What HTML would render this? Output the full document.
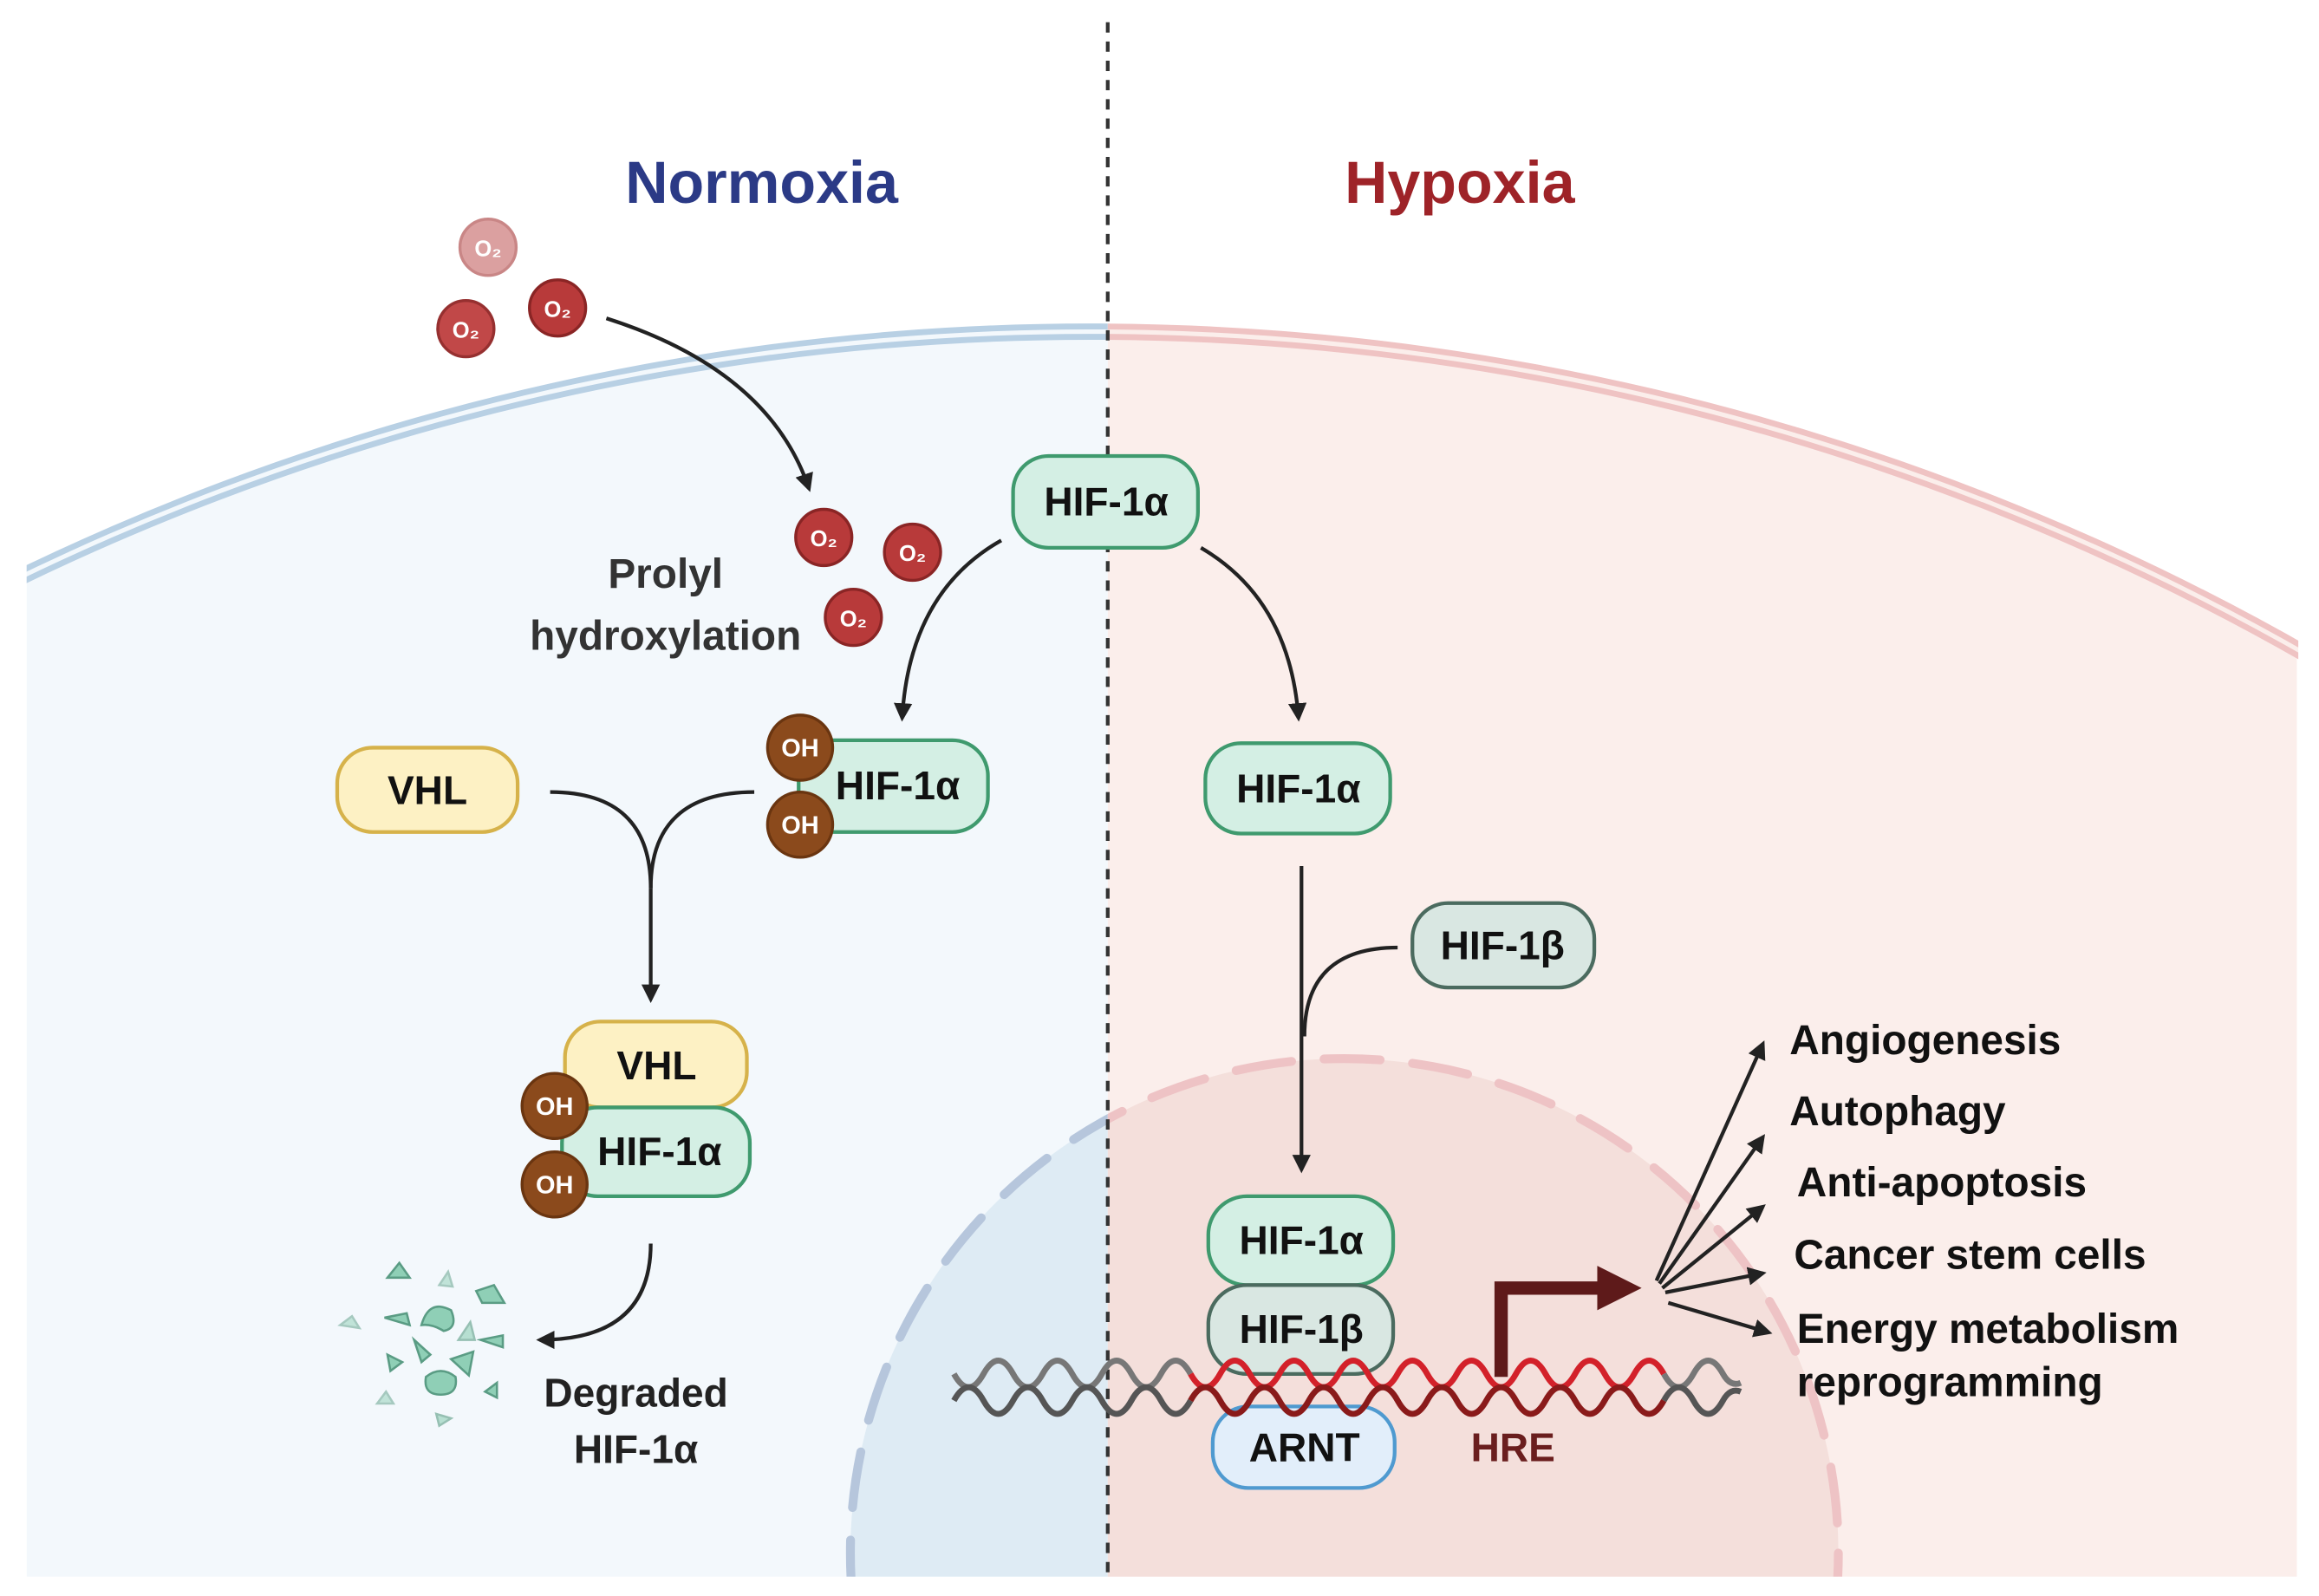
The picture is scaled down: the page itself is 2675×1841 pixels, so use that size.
<!DOCTYPE html>
<html><head><meta charset="utf-8"><style>
html,body{margin:0;padding:0;background:#fff;width:2675px;height:1841px;overflow:hidden;}
svg{display:block;}
text{font-family:"Liberation Sans","DejaVu Sans",sans-serif;font-weight:bold;}
</style></head><body>
<svg width="2675" height="1841" viewBox="0 0 1568 1078" preserveAspectRatio="none" xmlns="http://www.w3.org/2000/svg">
<defs>
<marker id="ah" viewBox="0 0 10 10" refX="8" refY="5" markerWidth="5" markerHeight="5" orient="auto"><path d="M0,0 L10,5 L0,10 z" fill="#222"/></marker>
<clipPath id="cl"><rect x="0" y="0" width="749" height="1065"/></clipPath>
<clipPath id="cr"><rect x="749" y="0" width="819" height="1065"/></clipPath>
<clipPath id="cell"><circle cx="737" cy="1884" r="1660"/></clipPath>
</defs>
<rect width="1568" height="1078" fill="#fff"/>
<g clip-path="url(#cell)">
<rect x="18" y="0" width="731" height="1065" fill="#f3f8fc"/>
<rect x="749" y="0" width="804" height="1065" fill="#fbeeeb"/>
</g>
<g clip-path="url(#cl)">
<circle cx="737" cy="1884" r="1660" fill="none" stroke="#b8d0e4" stroke-width="11"/>
<circle cx="737" cy="1884" r="1660" fill="none" stroke="#f3f8fc" stroke-width="3"/>
</g>
<g clip-path="url(#cr)">
<circle cx="737" cy="1884" r="1660" fill="none" stroke="#efc3c3" stroke-width="11"/>
<circle cx="737" cy="1884" r="1660" fill="none" stroke="#fbeeeb" stroke-width="3"/>
</g>
<rect x="0" y="300" width="18" height="800" fill="#fff"/>
<rect x="1554" y="380" width="20" height="700" fill="#fff"/>
<g clip-path="url(#cl)"><circle cx="909" cy="1049" r="334" fill="#deebf4" stroke="#b6c6dc" stroke-width="6" stroke-dasharray="38 22" stroke-linecap="round"/></g>
<g clip-path="url(#cr)"><circle cx="909" cy="1049" r="334" fill="#f4dfdb" stroke="#eec3c5" stroke-width="6" stroke-dasharray="38 22" stroke-linecap="round"/></g>
<rect x="0" y="1065" width="1568" height="20" fill="#fff"/>
<line x1="749" y1="15" x2="749" y2="1065" stroke="#333" stroke-width="2.5" stroke-dasharray="7 6"/>
<text x="515" y="137" font-size="40" fill="#2b3a86" text-anchor="middle">Normoxia</text>
<text x="987" y="137" font-size="40" fill="#9e2328" text-anchor="middle">Hypoxia</text>
<g font-size="15" fill="#fff" text-anchor="middle">
<circle cx="330" cy="167" r="19" fill="#dba0a0" stroke="#c98686" stroke-width="2"/><text x="330" y="173">O₂</text>
<circle cx="315" cy="222" r="19" fill="#c14848" stroke="#963030" stroke-width="2"/><text x="315" y="228">O₂</text>
<circle cx="377" cy="208" r="19" fill="#b83a3a" stroke="#8a2525" stroke-width="2"/><text x="377" y="214">O₂</text>
<circle cx="557" cy="363" r="19" fill="#b83a3a" stroke="#8a2525" stroke-width="2"/><text x="557" y="369">O₂</text>
<circle cx="617" cy="373" r="19" fill="#b83a3a" stroke="#8a2525" stroke-width="2"/><text x="617" y="379">O₂</text>
<circle cx="577" cy="417" r="19" fill="#b83a3a" stroke="#8a2525" stroke-width="2"/><text x="577" y="423">O₂</text>
</g>
<text x="450" y="397" font-size="28" fill="#333" text-anchor="middle">Prolyl</text>
<text x="450" y="439" font-size="28" fill="#333" text-anchor="middle">hydroxylation</text>
<g fill="none" stroke="#222" stroke-width="2.5" marker-end="url(#ah)">
<path d="M410,215 Q520,250 547,330"/>
<path d="M677,365 Q615,400 610,485"/>
<path d="M812,370 Q872,405 878,485"/>
<path d="M440,600 L440,675"/>
<path d="M880,585 L880,790"/>
<path d="M440,840 Q440,905 365,905"/>
<path d="M1120,865 L1192,705"/>
<path d="M1122,867 L1192,768"/>
<path d="M1124,870 L1192,815"/>
<path d="M1126,873 L1192,860"/>
<path d="M1128,880 L1196,900"/>
</g>
<g fill="none" stroke="#222" stroke-width="2.5">
<path d="M372,535 Q440,535 440,600"/>
<path d="M510,535 Q440,535 440,600"/>
<path d="M945,640 Q882,640 882,700"/>
</g>
<g font-size="27" text-anchor="middle" fill="#111">
<rect x="685" y="308" width="125" height="62" rx="24" fill="#d4efe4" stroke="#3f9a6e" stroke-width="2.5"/><text x="748" y="348">HIF-1α</text>
<rect x="540" y="500" width="128" height="62" rx="24" fill="#d4efe4" stroke="#3f9a6e" stroke-width="2.5"/><text x="607" y="540">HIF-1α</text>
<rect x="228" y="505" width="122" height="57" rx="24" fill="#fdf1c4" stroke="#d6b24a" stroke-width="2.5"/><text x="289" y="543">VHL</text>
<rect x="815" y="502" width="125" height="61" rx="24" fill="#d4efe4" stroke="#3f9a6e" stroke-width="2.5"/><text x="878" y="542">HIF-1α</text>
<rect x="955" y="610" width="123" height="57" rx="24" fill="#d9e7e2" stroke="#4b6b5f" stroke-width="2.5"/><text x="1016" y="648">HIF-1β</text>
<rect x="382" y="690" width="123" height="58" rx="24" fill="#fdf1c4" stroke="#d6b24a" stroke-width="2.5"/><text x="444" y="729">VHL</text>
<rect x="380" y="748" width="127" height="60" rx="24" fill="#d4efe4" stroke="#3f9a6e" stroke-width="2.5"/><text x="446" y="787">HIF-1α</text>
<rect x="817" y="808" width="125" height="60" rx="26" fill="#d4efe4" stroke="#3f9a6e" stroke-width="2.5"/><text x="880" y="847">HIF-1α</text>
<rect x="817" y="868" width="125" height="60" rx="26" fill="#d9e7e2" stroke="#4b6b5f" stroke-width="2.5"/><text x="880" y="907">HIF-1β</text>
<rect x="820" y="950" width="123" height="55" rx="24" fill="#e2eefa" stroke="#4f9ad0" stroke-width="2.5"/><text x="882" y="987">ARNT</text>
</g>
<g font-size="17" fill="#fff" text-anchor="middle">
<circle cx="541" cy="505" r="22" fill="#8b4a1c" stroke="#6a3510" stroke-width="2"/><text x="541" y="511">OH</text>
<circle cx="541" cy="557" r="22" fill="#8b4a1c" stroke="#6a3510" stroke-width="2"/><text x="541" y="563">OH</text>
<circle cx="375" cy="747" r="22" fill="#8b4a1c" stroke="#6a3510" stroke-width="2"/><text x="375" y="753">OH</text>
<circle cx="375" cy="800" r="22" fill="#8b4a1c" stroke="#6a3510" stroke-width="2"/><text x="375" y="806">OH</text>
</g>
<g fill="none" stroke-width="4">
<path d="M645,928 q10,18 20,0 q10,-18 20,0 q10,18 20,0 q10,-18 20,0 q10,18 20,0 q10,-18 20,0 q10,18 20,0 q10,-18 20,0" stroke="#777"/>
<path d="M645,946 q10,-18 20,0 q10,18 20,0 q10,-18 20,0 q10,18 20,0 q10,-18 20,0 q10,18 20,0 q10,-18 20,0 q10,18 20,0" stroke="#555"/>
<path d="M805,928 q10,18 20,0 q10,-18 20,0 q10,18 20,0 q10,-18 20,0 q10,18 20,0 q10,-18 20,0 q10,18 20,0 q10,-18 20,0 q10,18 20,0 q10,-18 20,0 q10,18 20,0 q10,-18 20,0 q10,18 20,0 q10,-18 20,0 q10,18 20,0 q10,-18 20,0" stroke="#d3212a"/>
<path d="M805,946 q10,-18 20,0 q10,18 20,0 q10,-18 20,0 q10,18 20,0 q10,-18 20,0 q10,18 20,0 q10,-18 20,0 q10,18 20,0 q10,-18 20,0 q10,18 20,0 q10,-18 20,0 q10,18 20,0 q10,-18 20,0 q10,18 20,0 q10,-18 20,0 q10,18 20,0" stroke="#8a1a1a"/>
<path d="M1125,928 q10,18 20,0 q10,-18 20,0 q5,9 12,6" stroke="#777"/>
<path d="M1125,946 q10,-18 20,0 q10,18 20,0 q5,-9 12,-6" stroke="#555"/>
</g>
<path d="M1015,930 L1015,870 L1085,870" fill="none" stroke="#5e1a1a" stroke-width="9"/>
<path d="M1080,855 L1110,870 L1080,885 z" fill="#5e1a1a"/>
<text x="1023" y="987" font-size="27" fill="#6a1e1e" text-anchor="middle">HRE</text>
<g font-size="28" fill="#111">
<text x="1210" y="712">Angiogenesis</text>
<text x="1210" y="760">Autophagy</text>
<text x="1215" y="808">Anti-apoptosis</text>
<text x="1213" y="857">Cancer stem cells</text>
<text x="1215" y="907">Energy metabolism</text>
<text x="1215" y="943">reprogramming</text>
</g>
<g fill="#8fcfb6" stroke="#5a9c84" stroke-width="1.5">
<path d="M262,863 l8,-10 l7,10 z"/>
<path d="M297,868 l6,-9 l3,10 z" opacity="0.5"/>
<path d="M322,872 l12,-4 l7,12 l-15,0 z"/>
<path d="M260,890 l15,-3 l2,8 z"/>
<path d="M285,895 q5,-18 20,-10 q5,12 -5,14 q-8,-5 -15,-4z"/>
<path d="M310,905 l8,-12 l3,12 z" opacity="0.6"/>
<path d="M280,905 l5,15 l6,-5 z"/>
<path d="M305,918 l15,-5 l-3,16 z"/>
<path d="M325,905 l15,-3 l0,8 z"/>
<path d="M262,915 l10,5 l-8,6 z"/>
<path d="M288,930 q10,-8 20,0 q2,12 -10,12 q-12,0 -10,-12z"/>
<path d="M328,940 l8,-6 l0,10 z"/>
<path d="M230,895 l8,-6 l5,8 z" opacity="0.5"/>
<path d="M255,948 l6,-8 l5,8 z" opacity="0.5"/>
<path d="M295,955 l10,3 l-8,5 z" opacity="0.6"/>
</g>
<text x="430" y="950" font-size="27" fill="#222" text-anchor="middle">Degraded</text>
<text x="430" y="988" font-size="27" fill="#222" text-anchor="middle">HIF-1α</text>
</svg>
</body></html>
